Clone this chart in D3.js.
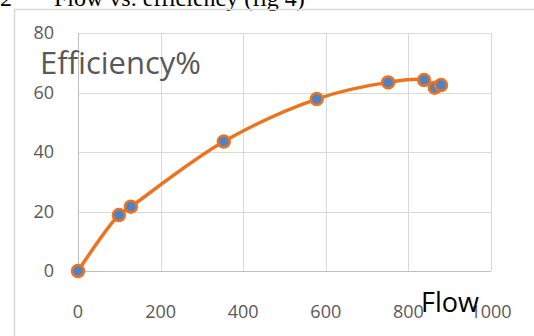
<!DOCTYPE html>
<html>
<head>
<meta charset="utf-8">
<script src="https://cdn.jsdelivr.net/npm/d3@7"></script>
<style>
  body { margin: 0; background: #fff; }
  svg { display: block; }
</style>
</head>
<body>
<div id="container"></div>
<script>
// data
const flow = [0, 99, 128, 353, 578, 751, 838, 864, 879];
const efficiency = [0, 18.8, 21.6, 43.5, 57.8, 63.4, 64.2, 61.6, 62.5];
const xTicks = [0, 200, 400, 600, 800, 1000];
const yTicks = [0, 20, 40, 60, 80];

const width = 534, height = 336;
const margin = { top: 33, right: 43, bottom: 65, left: 78 };

const svg = d3.select("#container")
  .append("svg")
  .attr("width", width)
  .attr("height", height);

const x = d3.scaleLinear().domain([0, 1000]).range([margin.left, width - margin.right]);
const y = d3.scaleLinear().domain([0, 80]).range([height - margin.bottom, margin.top]);

// document caption, clipped at the top like the source page
svg.append("text")
  .attr("x", 0)
  .attr("y", 6)
  .style("font-family", "Liberation Serif, serif")
  .style("font-size", "24px")
  .attr("xml:space", "preserve")
  .text("2       Flow vs. efficiency (fig 4)");

// chart frame
svg.append("rect")
  .attr("x", 14.5)
  .attr("y", 9.5)
  .attr("width", 600)
  .attr("height", 400)
  .attr("fill", "none")
  .attr("stroke", "#d9d9d9")
  .attr("stroke-width", 1.5);

// gridlines
svg.selectAll(".hgrid")
  .data(yTicks)
  .join("line")
  .attr("class", "hgrid")
  .attr("x1", x(0)).attr("x2", x(1000))
  .attr("y1", d => Math.round(y(d)) + 0.5)
  .attr("y2", d => Math.round(y(d)) + 0.5)
  .attr("stroke", d => d === 0 ? "#bfbfbf" : "#d9d9d9");

svg.selectAll(".vgrid")
  .data(xTicks)
  .join("line")
  .attr("class", "vgrid")
  .attr("y1", y(0)).attr("y2", y(80))
  .attr("x1", d => Math.round(x(d)) + 0.5)
  .attr("x2", d => Math.round(x(d)) + 0.5)
  .attr("stroke", d => d === 0 ? "#bfbfbf" : "#d9d9d9");

// tick labels
const tickFont = "Open Sans, sans-serif";
svg.selectAll(".ylab")
  .data(yTicks)
  .join("text")
  .attr("class", "ylab")
  .attr("x", 54)
  .attr("y", d => y(d))
  .attr("dy", "0.36em")
  .attr("text-anchor", "end")
  .style("font-family", tickFont)
  .style("font-size", "18px")
  .attr("fill", "#595959")
  .text(d => d);

svg.selectAll(".xlab")
  .data(xTicks)
  .join("text")
  .attr("class", "xlab")
  .attr("x", d => x(d))
  .attr("y", 318)
  .attr("text-anchor", "middle")
  .style("font-family", tickFont)
  .style("font-size", "18px")
  .attr("fill", "#595959")
  .text(d => d);

// axis titles
svg.append("text")
  .attr("x", 40)
  .attr("y", 74)
  .style("font-family", tickFont)
  .style("font-size", "31px")
  .attr("fill", "#595959")
  .text("Efficiency%");

svg.append("text")
  .attr("x", 421)
  .attr("y", 312)
  .style("font-family", tickFont)
  .style("font-size", "27px")
  .attr("fill", "#000")
  .text("Flow");

// series
const pts = flow.map((f, i) => [f, efficiency[i]]);

const line = d3.line()
  .x(d => x(d[0]))
  .y(d => y(d[1]))
  .curve(d3.curveCatmullRom.alpha(0.5));

svg.append("path")
  .datum(pts)
  .attr("d", line)
  .attr("fill", "none")
  .attr("stroke", "#EB7421")
  .attr("stroke-width", 3.5);

svg.selectAll(".pt")
  .data(pts)
  .join("circle")
  .attr("class", "pt")
  .attr("cx", d => x(d[0]))
  .attr("cy", d => y(d[1]))
  .attr("r", 6)
  .attr("fill", "#4F81C4")
  .attr("stroke", "#EB7421")
  .attr("stroke-width", 2.5);
</script>
</body>
</html>
